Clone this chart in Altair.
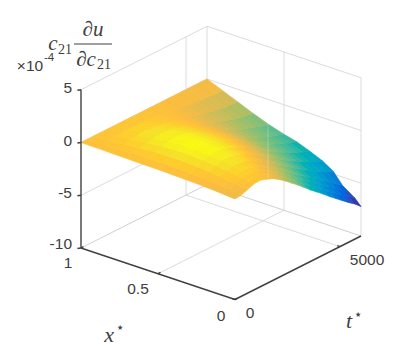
import altair as alt

x_grid = [0, .04, .08, .12, .18, .25, .33, .42, .5, .6, .7, .8, .9, 1]
t_grid = [0, 300, 600, 900, 1200, 1500, 1800, 2100, 2400, 2700, 3000, 3300, 3600, 3900, 4200, 4500, 4800, 5100, 5400, 5700, 6000]
z_rows = [
 [-.47,-.4,-.18,.05,.1,-.1,-.35,-.73,-1.18,-1.67,-2.16,-2.69,-3.23,-3.72,-4.22,-4.75,-5.24,-5.73,-6.22,-6.66,-7.2],
 [-.43,-.33,-.1,.13,.2,.05,-.16,-.52,-.93,-1.4,-1.88,-2.39,-2.9,-3.38,-3.85,-4.33,-4.8,-5.25,-5.72,-6.15,-6.6],
 [-.38,-.26,-.02,.22,.31,.2,.02,-.32,-.7,-1.13,-1.6,-2.08,-2.57,-3.03,-3.48,-3.94,-4.4,-4.84,-5.3,-5.75,-6.2],
 [-.33,-.18,.07,.32,.43,.35,.2,-.12,-.47,-.87,-1.31,-1.77,-2.24,-2.68,-3.12,-3.55,-3.98,-4.42,-4.88,-5.33,-5.8],
 [-.28,-.09,.19,.45,.6,.56,.43,.17,-.16,-.52,-.93,-1.37,-1.8,-2.24,-2.66,-3.05,-3.45,-3.83,-4.2,-4.5,-4.75],
 [-.23,-.01,.3,.58,.76,.76,.66,.44,.16,-.18,-.55,-.96,-1.38,-1.8,-2.2,-2.58,-2.93,-3.27,-3.57,-3.85,-4.1],
 [-.19,.06,.4,.7,.89,.92,.84,.66,.42,.12,-.22,-.6,-1.0,-1.4,-1.8,-2.15,-2.48,-2.8,-3.07,-3.35,-3.6],
 [-.15,.12,.47,.78,.98,1.03,.97,.82,.6,.33,.02,-.34,-.72,-1.12,-1.5,-1.85,-2.15,-2.4,-2.65,-2.9,-3.1],
 [-.12,.14,.48,.78,.97,1.02,.97,.84,.65,.4,.12,-.2,-.55,-.92,-1.28,-1.6,-1.88,-2.15,-2.4,-2.6,-2.8],
 [-.1,.13,.43,.7,.87,.93,.9,.79,.62,.4,.15,-.13,-.42,-.75,-1.05,-1.33,-1.58,-1.8,-2,-2.2,-2.35],
 [-.07,.1,.33,.54,.68,.74,.72,.64,.51,.34,.15,-.08,-.32,-.58,-.82,-1.03,-1.23,-1.4,-1.55,-1.7,-1.8],
 [-.05,.07,.22,.37,.49,.53,.52,.46,.37,.25,.11,-.05,-.22,-.4,-.57,-.72,-.85,-.97,-1.07,-1.15,-1.2],
 [-.02,.04,.12,.19,.25,.28,.27,.24,.19,.13,.06,-.03,-.11,-.2,-.29,-.37,-.44,-.5,-.54,-.58,-.6],
 [0]*21,
]
parula = ["#352a87","#0f5cdd","#1481d6","#06a4ca","#2eb7a4","#87bf77","#d1bb59","#fbbc40","#fec92f","#f5e228","#f9fb0e"]
parula_at = [0, .125, .25, .375, .5, .625, .75, .85, .9, .95, 1]
z_ticks = [-10, -5, 0, 5]
x_ticks = [0, .5, 1]
t_ticks = [0, 5000]
X_MAX, T_MAX = 1, 6000
Z_LOW, Z_HIGH = -7.0, 1.04
INK = "#404040"
GRID = "#dcdcdc"
WALL = "#d0d0d0"


def proj(x, t, z):
    """Orthographic view of the axes box, in page pixels less the 8px margin."""
    f, r = t / T_MAX, 1 - x / X_MAX
    return [81 + 126 * f + 154 * r - 8,
            248 - 63.5 * f + 51.5 * r - (z + 10) * 10.55 - 8]


def collection(features):
    return alt.InlineData(values={"type": "FeatureCollection", "features": features},
                          format=alt.DataFormat(property="features", type="json"))


def lines(segments):
    return collection([{"type": "Feature", "properties": {},
                        "geometry": {"type": "LineString", "coordinates": [proj(*a), proj(*b)]}}
                       for a, b in segments])


view = {"type": "identity", "scale": 1, "translate": [0, 0]}

cells = []
for i in range(len(x_grid) - 1):
    for j in range(len(t_grid) - 1):
        corners = [(i, j), (i + 1, j), (i + 1, j + 1), (i, j + 1)]
        ring = [proj(x_grid[a], t_grid[b], z_rows[a][b]) for a, b in corners]
        ring.append(ring[0])
        mean = sum(z_rows[a][b] for a, b in corners) / 4
        cells.append({"type": "Feature", "properties": {"z": mean},
                      "geometry": {"type": "Polygon", "coordinates": [ring]}})

stops = [Z_LOW + k * (Z_HIGH - Z_LOW) for k in parula_at]
colour = alt.Scale(domain=stops, range=parula)
surface = alt.Chart(collection(cells)).mark_geoshape(strokeWidth=0.7).encode(
    fill=alt.Color("properties.z:Q", scale=colour, legend=None),
    stroke=alt.Color("properties.z:Q", scale=colour, legend=None),
).project(**view)

soft = []
for z in z_ticks[1:]:
    soft += [((1, 0, z), (1, T_MAX, z)), ((1, T_MAX, z), (0, T_MAX, z))]
for t in t_ticks[1:]:
    soft += [((0, t, -10), (1, t, -10)), ((1, t, -10), (1, t, 5))]
for x in x_ticks[1:-1]:
    soft += [((x, 0, -10), (x, T_MAX, -10)), ((x, T_MAX, -10), (x, T_MAX, 5))]
soft += [((1, T_MAX, -10), (1, T_MAX, 5)), ((0, T_MAX, -10), (0, T_MAX, 5))]
back = [((1, 0, -10), (1, T_MAX, -10)), ((1, T_MAX, -10), (0, T_MAX, -10))]
axes = [((1, 0, -10), (1, 0, 5)), ((1, 0, -10), (0, 0, -10)), ((0, 0, -10), (0, T_MAX, -10))]
for z in z_ticks:
    axes.append(((1, 0, z), (1, -170, z + 0.12)))
for x in x_ticks:
    axes.append(((x, 0, -10), (x, 120, -10)))
for t in t_ticks:
    axes.append(((0, t, -10), (0.018, t, -10)))


def stroked(segments, color, width):
    return alt.Chart(lines(segments)).mark_geoshape(filled=False, stroke=color, strokeWidth=width).project(**view)


def label(text, px, py, size=15.5, font="Liberation Sans", style="normal", align="center", color=INK):
    return alt.Chart(alt.Data(values=[{"s": text}])).mark_text(
        font=font, fontSize=size, fontStyle=style, align=align, baseline="middle", color=color
    ).encode(text="s:N", x=alt.value(px - 8), y=alt.value(py - 8))


SERIF = "Liberation Serif"
texts = []
for z, py in zip(z_ticks, [244, 193, 141, 88]):
    texts.append(label(str(z), 72, py, align="right"))
texts += [label("1", 68, 263), label("0.5", 138, 289), label("0", 221, 316),
          label("0", 250, 313), label("5000", 367, 260)]
texts += [label("×10", 30, 66), label("-4", 49, 58, size=11.5)]
texts += [label("c", 53, 44, size=21, font=SERIF, style="italic"),
          label("21", 65, 50, size=14, font=SERIF),
          label("∂u", 93, 30, size=21, font=SERIF, style="italic"),
          label("∂c", 86, 60, size=21, font=SERIF, style="italic"),
          label("21", 104, 65, size=14, font=SERIF)]
texts += [label("x", 109, 335, size=22, font=SERIF, style="italic"),
          label("⋆", 120, 328, size=14, font="DejaVu Sans"),
          label("t", 349, 321, size=22, font=SERIF, style="italic"),
          label("⋆", 358, 315, size=14, font="DejaVu Sans")]

bar_seg = alt.Chart(alt.Data(values=[{"a": 1}])).mark_rule(color=INK, strokeWidth=1).encode(
    x=alt.value(74 - 8), x2=alt.value(112 - 8), y=alt.value(44 - 8))
seam = alt.Chart(alt.Data(values=[{"a": 1}])).mark_rule(color="#ffffff", strokeWidth=0.8, opacity=0.3).encode(
    x=alt.value(268 - 8), y=alt.value(124 - 8), y2=alt.value(178 - 8))

chart = alt.layer(
    stroked(soft, GRID, 1), stroked(back, WALL, 1), surface, seam, stroked(axes, INK, 1.4), bar_seg, *texts
).properties(width=383, height=336, padding=0, autosize=alt.AutoSizeParams(type="none")).configure_view(stroke=None)

chart.save("out.html", embed_options={"renderer": "svg", "actions": False})
